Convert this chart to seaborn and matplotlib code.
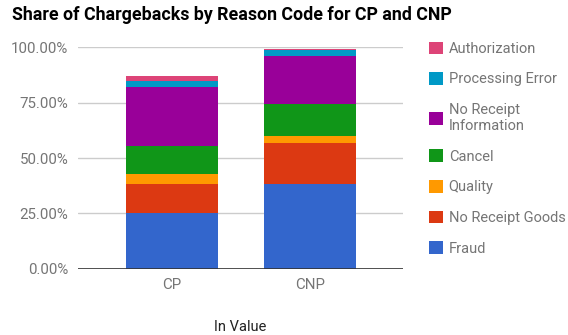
import matplotlib
matplotlib.use("Agg")
import matplotlib.pyplot as plt
import numpy as np
import pandas as pd
import seaborn as sns
from matplotlib.patches import Patch

# data (shares, 0-1)
channels = ["CP", "CNP"]
reasons = [
    "Fraud",
    "No Receipt Goods",
    "Quality",
    "Cancel",
    "No Receipt\nInformation",
    "Processing Error",
    "Authorization",
]
fraud = [0.250, 0.383]
no_receipt_goods = [0.133, 0.186]
quality = [0.043, 0.032]
cancel = [0.127, 0.144]
no_receipt_info = [0.269, 0.214]
processing_error = [0.027, 0.029]
authorization = [0.021, 0.004]
colors = ["#3366cc", "#dc3912", "#ff9900", "#109618", "#990099", "#0099c6", "#dd4477"]

series = [fraud, no_receipt_goods, quality, cancel, no_receipt_info,
          processing_error, authorization]

sns.set_style("white")
plt.rcParams["font.family"] = ["Roboto", "DejaVu Sans"]

fig = plt.figure(figsize=(5.68, 3.35), dpi=100)
ax = fig.add_axes([78 / 568, 1 - 268.7 / 335, 325 / 568, 221.4 / 335])

# stacked bars: draw cumulative totals from the top segment down
cum = np.cumsum(np.array(series), axis=0)
for i in range(len(series) - 1, -1, -1):
    df = pd.DataFrame({"channel": channels, "share": cum[i]})
    sns.barplot(data=df, x="channel", y="share", color=colors[i],
                saturation=1, width=0.66, linewidth=0, ax=ax)

ax.set_xlim(-0.681, 1.674)
ax.set_ylim(0, 1.0)
ax.set_yticks([0, 0.25, 0.5, 0.75, 1.0])
ax.set_yticklabels(["0.00%", "25.00%", "50.00%", "75.00%", "100.00%"])
ax.yaxis.grid(True, color="#cccccc", linewidth=1)
ax.set_axisbelow(True)
for s in ax.spines.values():
    s.set_visible(False)
ax.axhline(0, color="#333333", linewidth=1.2, zorder=5)
ax.tick_params(axis="both", length=0, labelsize=10.8, labelcolor="#757575")
ax.tick_params(axis="y", pad=7)
ax.tick_params(axis="x", pad=7)
ax.set_xlabel("In Value", fontsize=10.5, color="#222222", labelpad=20)
ax.set_ylabel("")

fig.text(12 / 568, 1 - 15.5 / 335, "Share of Chargebacks by Reason Code for CP and CNP",
         fontsize=12.8, fontweight="bold", color="#000000", va="center", ha="left")

handles = [Patch(facecolor=colors[i], edgecolor="none") for i in range(len(reasons))][::-1]
labels = reasons[::-1]
fig.legend(handles, labels, loc="upper left", bbox_to_anchor=(429 / 568, 1 - 41.5 / 335),
           frameon=False, borderpad=0, borderaxespad=0, fontsize=10.5,
           labelcolor="#757575", handlelength=0.95, handleheight=0.95,
           handletextpad=0.4, labelspacing=1.12)

fig.savefig("out.png", dpi=100)
